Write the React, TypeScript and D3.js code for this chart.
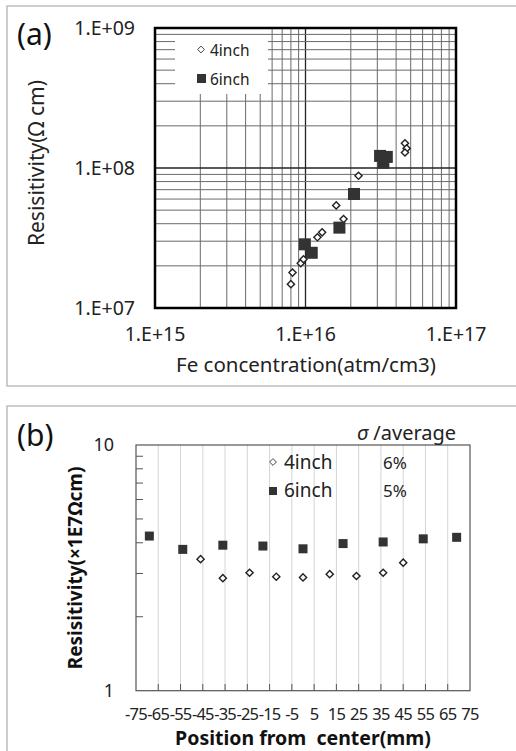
import React from "react";
import * as d3 from "d3";

// Panel (a) data: Fe concentration (atm/cm3) vs resistivity (Ω cm)
const feX4 = [8.0e15, 8.2e15, 9.3e15, 9.7e15, 1.2e16, 1.29e16, 1.6e16, 1.79e16, 2.25e16, 4.58e16, 4.7e16, 4.58e16];
const resY4 = [1.48e7, 1.79e7, 2.09e7, 2.23e7, 3.2e7, 3.47e7, 5.4e7, 4.32e7, 8.8e7, 1.5e8, 1.38e8, 1.29e8];
const feX6 = [9.9e15, 1.1e16, 1.68e16, 2.1e16, 3.13e16, 3.47e16, 3.29e16];
const resY6 = [2.85e7, 2.48e7, 3.75e7, 6.52e7, 1.22e8, 1.2e8, 1.09e8];
const aXTicks = [1e15, 1e16, 1e17];
const aXTickLabels = ["1.E+15", "1.E+16", "1.E+17"];
const aYTicks = [1e7, 1e8, 1e9];
const aYTickLabels = ["1.E+07", "1.E+08", "1.E+09"];

// Panel (b) data: position from center (mm) vs resistivity (×1E7 Ω cm)
const pos4 = [-46, -36, -24, -12, 0, 12, 24, 36, 45];
const res4 = [3.43, 2.87, 3.02, 2.91, 2.89, 2.98, 2.93, 3.02, 3.32];
const pos6 = [-69, -54, -36, -18, 0, 18, 36, 54, 69];
const res6 = [4.26, 3.76, 3.91, 3.88, 3.78, 3.97, 4.03, 4.15, 4.21];
const bXTicks = [-75, -65, -55, -45, -35, -25, -15, -5, 5, 15, 25, 35, 45, 55, 65, 75];
const bYTicks = [1, 10];
const seriesNames = ["4inch", "6inch"];
const sigmaAvg = ["6%", "5%"];

const FONT = "'Noto Sans', 'Open Sans', sans-serif";

function diamond(cx: number, cy: number, r: number) {
  return `M${cx},${cy - r}L${cx + r},${cy}L${cx},${cy + r}L${cx - r},${cy}Z`;
}

export default function App() {
  // Panel a scales
  const xA = d3.scaleLog().domain([1e15, 1e17]).range([155, 456]);
  const yA = d3.scaleLog().domain([1e7, 1e9]).range([308, 28]);
  const gridXA: number[] = [];
  [1e15, 1e16].forEach((d) => {
    for (let k = 1; k <= 9; k++) gridXA.push(k * d);
  });
  gridXA.push(1e17);
  const gridYA: number[] = [];
  [1e7, 1e8].forEach((d) => {
    for (let k = 1; k <= 9; k++) gridYA.push(k * d);
  });
  gridYA.push(1e9);

  // Panel b scales
  const xB = d3.scaleLinear().domain([-75, 75]).range([136, 470]);
  const yB = d3.scaleLog().domain([1, 10]).range([690.7, 445]);
  const minorB = [2, 3, 4, 5, 6, 7, 8, 9];

  const lx0 = 175, lx1 = 268, ly0 = 35, ly1 = 94;

  return (
    <svg width={516} height={751} style={{ position: "absolute", left: 0, top: 0, background: "#fff" }} fontFamily={FONT}>
      <rect x={0} y={0} width={516} height={751} fill="#fff" />
      {/* panel frames */}
      <rect x={7} y={6} width={520} height={380} fill="none" stroke="#bdbdbd" strokeWidth={1.5} />
      <rect x={7} y={406} width={520} height={360} fill="none" stroke="#bdbdbd" strokeWidth={1.5} />

      {/* ===== Panel (a) ===== */}
      <text x={17} y={45} fontSize={30} fill="#111">(a)</text>
      {gridXA.map((v, i) => {
        const major = v === 1e16;
        const x = xA(v);
        const inLegend = x > lx0 && x < lx1;
        return (
          <line key={"gxa" + i} x1={x} x2={x} y1={inLegend ? ly1 : 28} y2={308}
            stroke={major ? "#222" : "#6a6a6a"} strokeWidth={major ? 1.3 : 1} />
        );
      })}
      {gridYA.map((v, i) => {
        const major = v === 1e8;
        const y = yA(v);
        const inLegend = y > ly0 && y < ly1;
        return inLegend ? (
          <g key={"gya" + i}>
            <line x1={155} x2={lx0} y1={y} y2={y} stroke="#6a6a6a" strokeWidth={1} />
            <line x1={lx1} x2={456} y1={y} y2={y} stroke="#6a6a6a" strokeWidth={1} />
          </g>
        ) : (
          <line key={"gya" + i} x1={155} x2={456} y1={y} y2={y}
            stroke={major ? "#222" : "#6a6a6a"} strokeWidth={major ? 1.3 : 1} />
        );
      })}
      <rect x={lx0} y={ly0} width={lx1 - lx0} height={ly1 - ly0} fill="#fff" />
      <rect x={155} y={28} width={301} height={280} fill="none" stroke="#000" strokeWidth={2.5} />

      {feX4.map((v, i) => (
        <path key={"d4" + i} d={diamond(xA(v), yA(resY4[i]), 3.6)} fill="#fff" stroke="#222" strokeWidth={1.4} />
      ))}
      {feX6.map((v, i) => (
        <rect key={"s6" + i} x={xA(v) - 6} y={yA(resY6[i]) - 6} width={12} height={12} fill="#333" />
      ))}

      {/* legend a */}
      <path d={diamond(201, 49.5, 3.4)} fill="#fff" stroke="#444" strokeWidth={1} />
      <text x={210} y={55.5} fontSize={15.5} fill="#222">{seriesNames[0]}</text>
      <rect x={197} y={74} width={9} height={9} fill="#333" />
      <text x={210} y={84.5} fontSize={15.5} fill="#222">{seriesNames[1]}</text>

      {aYTicks.map((v, i) => (
        <text key={"yta" + i} x={135} y={yA(v) + 7} textAnchor="end" fontSize={19.5} fill="#222">{aYTickLabels[i]}</text>
      ))}
      {aXTicks.map((v, i) => (
        <text key={"xta" + i} x={xA(v)} y={341} textAnchor="middle" fontSize={19.5} fill="#222">{aXTickLabels[i]}</text>
      ))}
      <text x={306} y={372} textAnchor="middle" fontSize={20.5} fill="#222">Fe concentration(atm/cm3)</text>
      <text transform="translate(44,163) rotate(-90)" textAnchor="middle" fontSize={21} fill="#222">Resisitivity(Ω cm)</text>

      {/* ===== Panel (b) ===== */}
      <text x={17} y={446} fontSize={30} fill="#111">(b)</text>
      {bXTicks.slice(1, -1).map((v, i) => (
        <line key={"gxb" + i} x1={xB(v)} x2={xB(v)} y1={445} y2={690.7} stroke="#d4d4d4" strokeWidth={1} />
      ))}
      {bXTicks.slice(1, -1).map((v, i) => (
        <line key={"txb" + i} x1={xB(v)} x2={xB(v)} y1={690.7} y2={684} stroke="#555" strokeWidth={1} />
      ))}
      {minorB.map((v, i) => (
        <line key={"myb" + i} x1={136} x2={143} y1={yB(v)} y2={yB(v)} stroke="#555" strokeWidth={1} />
      ))}
      <rect x={136} y={445} width={334} height={245.7} fill="none" stroke="#555" strokeWidth={1.2} />

      {pos6.map((v, i) => (
        <rect key={"b6" + i} x={xB(v) - 4.5} y={yB(res6[i]) - 4.5} width={9} height={9} fill="#333" />
      ))}
      {pos4.map((v, i) => (
        <path key={"b4" + i} d={diamond(xB(v), yB(res4[i]), 3.6)} fill="#fff" stroke="#222" strokeWidth={1.4} />
      ))}

      {/* legend b */}
      <text x={357} y={440} fontSize={20} fill="#222"><tspan fontStyle="italic">σ</tspan> /average</text>
      <path d={diamond(273, 462, 3.4)} fill="#fff" stroke="#444" strokeWidth={1} />
      <text x={284} y={469} fontSize={19} fill="#222">{seriesNames[0]}</text>
      <text x={383} y={469} fontSize={17} fill="#222">{sigmaAvg[0]}</text>
      <rect x={269} y={487} width={8} height={8} fill="#333" />
      <text x={284} y={497} fontSize={19} fill="#222">{seriesNames[1]}</text>
      <text x={383} y={497} fontSize={17} fill="#222">{sigmaAvg[1]}</text>

      {bYTicks.map((v, i) => (
        <text key={"ytb" + i} x={114} y={yB(v) + 6} textAnchor="end" fontSize={18} fill="#222">{String(v)}</text>
      ))}
      {bXTicks.map((v, i) => (
        <text key={"xtb" + i} x={xB(v)} y={720} textAnchor="middle" fontSize={16.5} letterSpacing={-0.8} fill="#222">{String(v)}</text>
      ))}
      <text x={303} y={745} textAnchor="middle" fontSize={19.5} fontWeight="bold" fill="#111" style={{ whiteSpace: "pre" }}>{"Position from  center(mm)"}</text>
      <text transform="translate(82,568) rotate(-90)" textAnchor="middle" fontSize={19} fontWeight="bold" fill="#111">Resisitivity(×1E7Ωcm)</text>
    </svg>
  );
}
